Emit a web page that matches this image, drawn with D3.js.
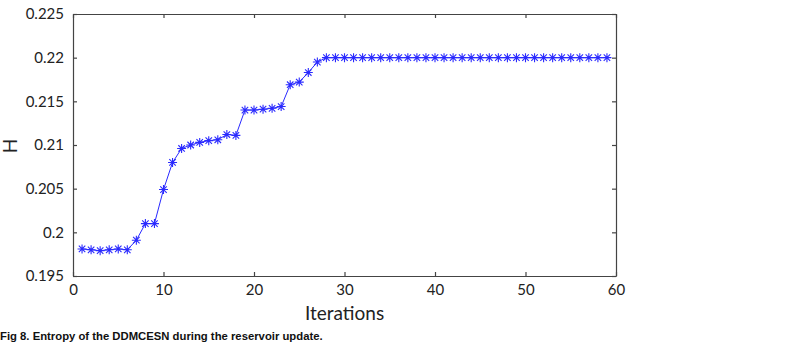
<!DOCTYPE html>
<html>
<head>
<meta charset="utf-8">
<script src="https://cdn.jsdelivr.net/npm/d3@7"></script>
<style>
  body { margin: 0; background: #fff; }
  svg { display: block; }
  .tick text { font-family: Lato, "Open Sans", sans-serif; font-size: 15px; fill: #222; }
</style>
</head>
<body>
<svg id="chart"></svg>
<script>
// iteration index and entropy H
const iterations = [1, 2, 3, 4, 5, 6, 7, 8, 9, 10, 11, 12, 13, 14, 15, 16, 17, 18, 19, 20,
  21, 22, 23, 24, 25, 26, 27, 28, 29, 30, 31, 32, 33, 34, 35, 36, 37, 38, 39, 40,
  41, 42, 43, 44, 45, 46, 47, 48, 49, 50, 51, 52, 53, 54, 55, 56, 57, 58, 59];
const entropy = [0.1981, 0.1980, 0.1979, 0.1980, 0.1981, 0.1980, 0.1991, 0.2010, 0.2010, 0.2049,
  0.2080, 0.2096, 0.2100, 0.2103, 0.2105, 0.2106, 0.2112, 0.2111, 0.2140, 0.2140,
  0.2141, 0.2142, 0.2144, 0.2169, 0.2172, 0.2183, 0.2195, 0.2200, 0.2200, 0.2200,
  0.2200, 0.2200, 0.2200, 0.2200, 0.2200, 0.2200, 0.2200, 0.2200, 0.2200, 0.2200,
  0.2200, 0.2200, 0.2200, 0.2200, 0.2200, 0.2200, 0.2200, 0.2200, 0.2200, 0.2200,
  0.2200, 0.2200, 0.2200, 0.2200, 0.2200, 0.2200, 0.2200, 0.2200, 0.2200];
const xTicks = [0, 10, 20, 30, 40, 50, 60];
const yTicks = [0.195, 0.2, 0.205, 0.21, 0.215, 0.22, 0.225];

const width = 798, height = 344;
const margin = { top: 14, right: 182, bottom: 68, left: 73 };
const w = width - margin.left - margin.right;
const h = height - margin.top - margin.bottom;

const svg = d3.select('#chart')
    .attr('width', width)
    .attr('height', height);

const chart = svg.append('g')
    .attr('transform', `translate(${margin.left}, ${margin.top})`);

const x = d3.scaleLinear().domain([0, 60]).range([0, w]);
const y = d3.scaleLinear().domain([0.195, 0.225]).range([h, 0]);

const axisColor = '#444';

// main axes, ticks pointing inward
const xAxis = d3.axisBottom(x).tickValues(xTicks).tickFormat(d3.format('d'))
    .tickSizeInner(-4).tickSizeOuter(0).tickPadding(8);
const yAxis = d3.axisLeft(y).tickValues(yTicks).tickFormat(d => String(+d.toFixed(3)))
    .tickSizeInner(-4).tickSizeOuter(0).tickPadding(9);

chart.append('g')
    .attr('class', 'x axis')
    .attr('transform', `translate(0, ${h})`)
    .call(xAxis);

chart.append('g')
    .attr('class', 'y axis')
    .call(yAxis);

// top and right mirror axes (no labels)
chart.append('g')
    .attr('class', 'x2 axis')
    .call(d3.axisTop(x).tickValues(xTicks).tickFormat('').tickSizeInner(-4).tickSizeOuter(0));

chart.append('g')
    .attr('class', 'y2 axis')
    .attr('transform', `translate(${w}, 0)`)
    .call(d3.axisRight(y).tickValues(yTicks).tickFormat('').tickSizeInner(-4).tickSizeOuter(0));

chart.selectAll('.axis path, .axis line')
    .attr('stroke', axisColor)
    .attr('stroke-width', 1.2);

// series line
const pts = iterations.map((d, i) => [d, entropy[i]]);
const blue = '#2a2aff';

chart.append('path')
    .datum(pts)
    .attr('fill', 'none')
    .attr('stroke', blue)
    .attr('stroke-width', 1)
    .attr('d', d3.line().x(d => x(d[0])).y(d => y(d[1])));

// asterisk markers
const r = 4.5, rd = r * 0.72;
const star = `M${-r},0L${r},0M0,${-r}L0,${r}M${-rd},${-rd}L${rd},${rd}M${-rd},${rd}L${rd},${-rd}`;

chart.selectAll('.marker')
    .data(pts)
  .enter().append('path')
    .attr('class', 'marker')
    .attr('transform', d => `translate(${x(d[0])}, ${y(d[1])})`)
    .attr('d', star)
    .attr('fill', 'none')
    .attr('stroke', blue)
    .attr('stroke-width', 1.1);

// axis labels
chart.append('text')
    .attr('x', w / 2)
    .attr('y', h + 44)
    .style('text-anchor', 'middle')
    .style('font-family', 'Lato, "Open Sans", sans-serif')
    .style('font-size', '19px')
    .style('fill', '#222')
    .text('Iterations');

svg.append('text')
    .attr('transform', `translate(10, ${margin.top + h / 2 + 1}) rotate(-90)`)
    .attr('dy', '0.35em')
    .style('text-anchor', 'middle')
    .style('font-family', 'Lato, "Open Sans", sans-serif')
    .style('font-size', '19px')
    .style('fill', '#222')
    .text('H');

// figure caption
svg.append('text')
    .attr('x', 0)
    .attr('y', 340)
    .style('font-family', '"Liberation Sans", Arial, sans-serif')
    .style('font-weight', 'bold')
    .style('font-size', '11.3px')
    .style('fill', '#111')
    .text('Fig 8. Entropy of the DDMCESN during the reservoir update.');
</script>
</body>
</html>
